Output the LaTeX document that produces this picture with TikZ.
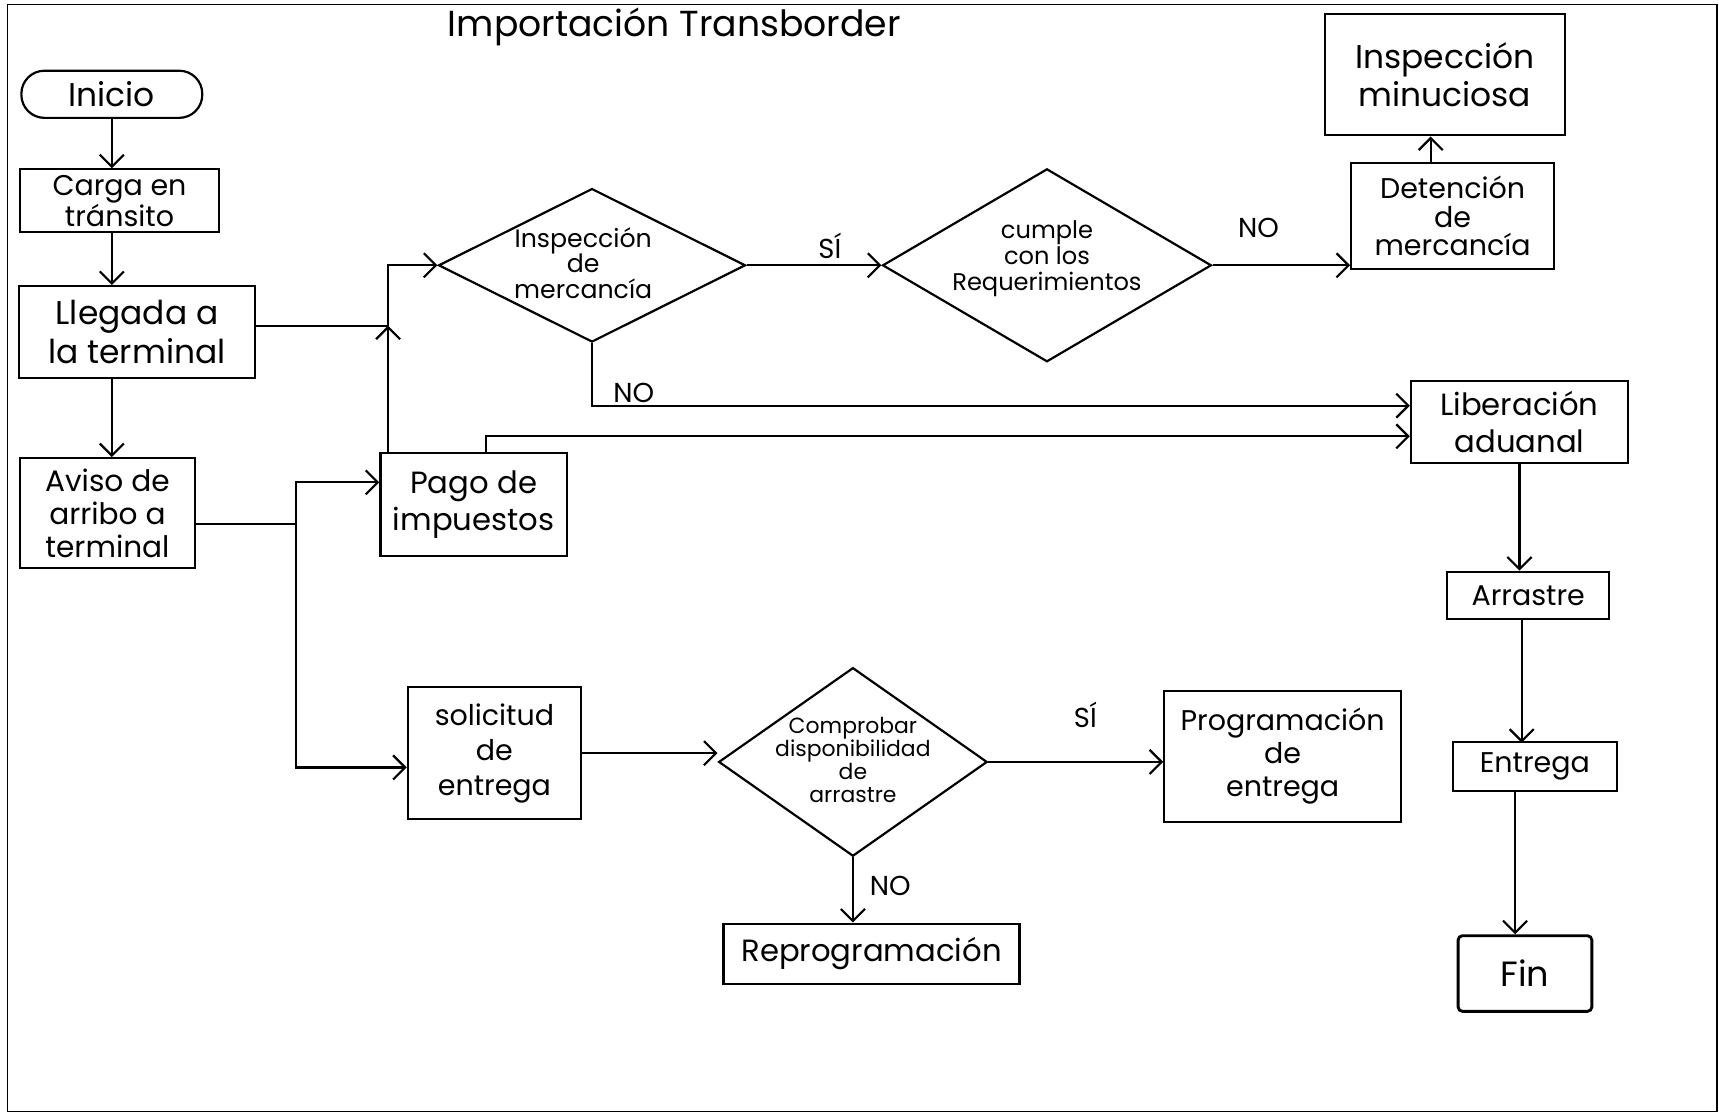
\documentclass[tikz,border=0pt]{standalone}
\usepackage{fontspec}
\setmainfont{Poppins}
\usetikzlibrary{shapes.geometric,arrows.meta}
\newcommand\myfs[2]{\fontsize{#1}{#2}\selectfont}
\begin{document}
\begin{tikzpicture}[x=1pt,y=-1pt,
  line width=2pt,
  box/.style={draw,rectangle,align=center,inner sep=1pt},
  dia/.style={draw,diamond,inner sep=0pt},
  lbl/.style={align=center,inner sep=0pt},
  arr/.style={-{Straight Barb[length=11pt,width=22pt]}},
]
\useasboundingbox (0,0) rectangle (1568,1017);
\draw[line width=1.4pt] (7,4) rectangle (1566,1014);

% title
\node[lbl,font=\myfs{33}{35}] (title) at (615,25) {Importación Transborder};

% left column
\node[box,minimum width=165,minimum height=43,rounded corners=21pt,font=\myfs{30}{32}] (ini) at (102,86) {Inicio};
\node[box,minimum width=182,minimum height=57,font=\myfs{26}{26}] (carga) at (109,183) {Carga en\\tránsito};
\node[box,minimum width=215,minimum height=84,font=\myfs{30}{36}] (lleg) at (125,303) {Llegada a\\la terminal};
\node[box,minimum width=160,minimum height=100,font=\myfs{27}{30}] (aviso) at (98,468) {Aviso de\\arribo a\\terminal};
\node[box,minimum width=170,minimum height=94,font=\myfs{28}{34}] (pago) at (432,460) {Pago de\\impuestos};

% top diamonds
\node[dia,minimum width=280,minimum height=140] (d1) at (540,242) {};
\node[lbl,font=\myfs{23}{23}] (d1t) at (532,240) {Inspección\\de\\mercancía};
\node[dia,minimum width=300,minimum height=176] (d2) at (955,242) {};
\node[lbl,font=\myfs{22}{24}] (d2t) at (955,236) {cumple\\con los\\Requerimientos};

% right top
\node[box,minimum width=185,minimum height=96,font=\myfs{26}{26}] (det) at (1325,197) {Detención\\de\\mercancía};
\node[box,minimum width=219,minimum height=111,font=\myfs{30}{34}] (minuc) at (1318,68) {Inspección\\minuciosa};
\node[box,minimum width=198,minimum height=75,font=\myfs{28}{34}] (lib) at (1386,385) {Liberación\\aduanal};
\node[box,minimum width=148,minimum height=43,font=\myfs{26}{28}] (arrs) at (1394,543) {Arrastre};
\node[box,minimum width=150,minimum height=45,font=\myfs{26}{28}] (ent) at (1400,699) {Entrega};
\node[box,minimum width=122,minimum height=69,rounded corners=4pt,line width=2.6pt,font=\myfs{32}{34}] (fin) at (1391,888) {Fin};

% bottom row
\node[box,minimum width=158,minimum height=120,font=\myfs{26}{32}] (sol) at (451,687) {solicitud\\de\\entrega};
\node[dia,minimum width=245,minimum height=172] (d3) at (778,695) {};
\node[lbl,font=\myfs{20}{21}] (d3t) at (778,693) {Comprobar\\disponibilidad\\de\\arrastre};
\node[box,minimum width=216,minimum height=120,font=\myfs{26}{30}] (prog) at (1170,690) {Programación\\de\\entrega};
\node[box,minimum width=270,minimum height=55,font=\myfs{28}{30}] (rep) at (795,870) {Reprogramación};

% labels
\node[lbl,font=\myfs{25}{26}] (si1) at (757,224) {SÍ};
\node[lbl,font=\myfs{25}{26}] (no1) at (1148,208) {NO};
\node[lbl,font=\myfs{25}{26}] (no2) at (578,358) {NO};
\node[lbl,font=\myfs{25}{26}] (si2) at (990,652) {SÍ};
\node[lbl,font=\myfs{25}{26}] (no3) at (812,808) {NO};

% junction coordinates
\coordinate (j1) at (354,297);
\coordinate (j3) at (270,440);
\coordinate (j4) at (270,700);
\coordinate (j5) at (443,398);
\coordinate (j6) at (540,370);

% connectors left column
\draw[arr] (ini.south) -- (ini.south |- carga.north);
\draw[arr] (carga.south -| ini.south) -- (ini.south |- lleg.north);
\draw[arr] (lleg.south -| ini.south) -- (ini.south |- aviso.north);

% Llegada / Pago to Inspección
\draw (lleg.east |- j1) -- (j1);
\draw[arr] (pago.north -| j1) -- (j1);
\draw[arr] (j1) -- (j1 |- d1.west) -- (d1.west);

% Aviso to Pago and Solicitud
\draw ([yshift=-10pt]aviso.east) -- ([yshift=-10pt]aviso.east -| j3);
\draw[arr] (j4) -- (j3) -- (j3 -| pago.west);
\draw[arr] (j3) -- (j4) -- (j4 -| sol.west);

% Pago to Liberación
\draw[arr] (pago.north -| j5) -- (j5) -- (j5 -| lib.west);

% Inspección NO to Liberación
\draw[arr] (d1.south) -- (j6) -- (j6 -| lib.west);

% Inspección SI to Cumple
\draw[arr] (d1.east) -- (d2.west);
% Cumple NO to Detención
\draw[arr] (d2.east) -- (d2.east -| det.west);
% Detención to Inspección minuciosa
\draw[arr] ([xshift=-20pt]det.north) -- ([xshift=-20pt]det.north |- minuc.south);

% right column
\draw[arr] (lib.south) -- (lib.south |- arrs.north);
\draw[arr] (arrs.south -| ent.south) ++(-12pt,0) -- ++(0,112);
\draw[arr] ([xshift=-18pt]ent.south) -- ([xshift=-18pt]ent.south |- fin.north);

% bottom row
\draw[arr] (sol.east) -- (sol.east -| d3.west);
\draw[arr] (d3.east) -- (d3.east -| prog.west);
\draw[arr] (d3.south) -- (d3.south |- rep.north);
\end{tikzpicture}
\end{document}
